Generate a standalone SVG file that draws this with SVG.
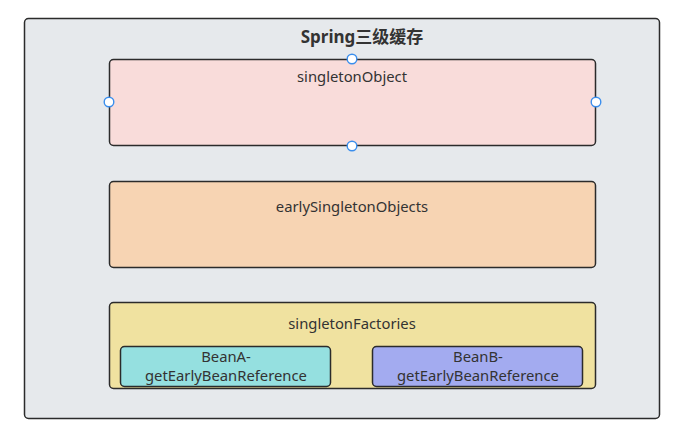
<svg xmlns="http://www.w3.org/2000/svg" width="690" height="438" viewBox="0 0 690 438">
<style>
.box{stroke:#2b2b2b;stroke-width:1.5}
.t{font-family:"Noto Sans","Noto Sans CJK SC",sans-serif;font-size:14.8px;fill:#333;text-anchor:middle}
.h{fill:#fff;stroke:#3a8eed;stroke-width:1.4}
</style>
<rect width="690" height="438" fill="#fff"/>
<g id="container">
<rect class="box" x="24.5" y="18.5" width="635" height="400" rx="4" fill="#e6e9ec"/>
<text class="t" x="362" y="43" style="font-weight:bold;font-size:17px">Spring三级缓存</text>
</g>
<g id="singletonObject">
<rect class="box" x="109.5" y="59.5" width="486" height="86" rx="4" fill="#f9dcda"/>
<text class="t" x="352" y="82">singletonObject</text>
</g>
<g id="earlySingletonObjects">
<rect class="box" x="109.5" y="181.5" width="486" height="86" rx="4" fill="#f7d4b3"/>
<text class="t" x="352" y="212">earlySingletonObjects</text>
</g>
<g id="singletonFactories">
<rect class="box" x="109.5" y="302.5" width="486" height="86" rx="4" fill="#f0e2a0"/>
<text class="t" x="352" y="329">singletonFactories</text>
</g>
<g id="beanA">
<rect class="box" x="120.5" y="346.5" width="210" height="40" rx="4" fill="#95e0e0"/>
<text class="t" x="226" y="362">BeanA-</text>
<text class="t" x="226" y="381">getEarlyBeanReference</text>
</g>
<g id="beanB">
<rect class="box" x="372.5" y="346.5" width="210" height="40" rx="4" fill="#a3abf0"/>
<text class="t" x="478" y="362">BeanB-</text>
<text class="t" x="478" y="381">getEarlyBeanReference</text>
</g>
<g id="connectors"></g>
<g id="handles">
<circle class="h" cx="352" cy="59" r="4.8"/>
<circle class="h" cx="109" cy="102" r="4.8"/>
<circle class="h" cx="596" cy="102" r="4.8"/>
<circle class="h" cx="352" cy="146" r="4.8"/>
</g>
</svg>
